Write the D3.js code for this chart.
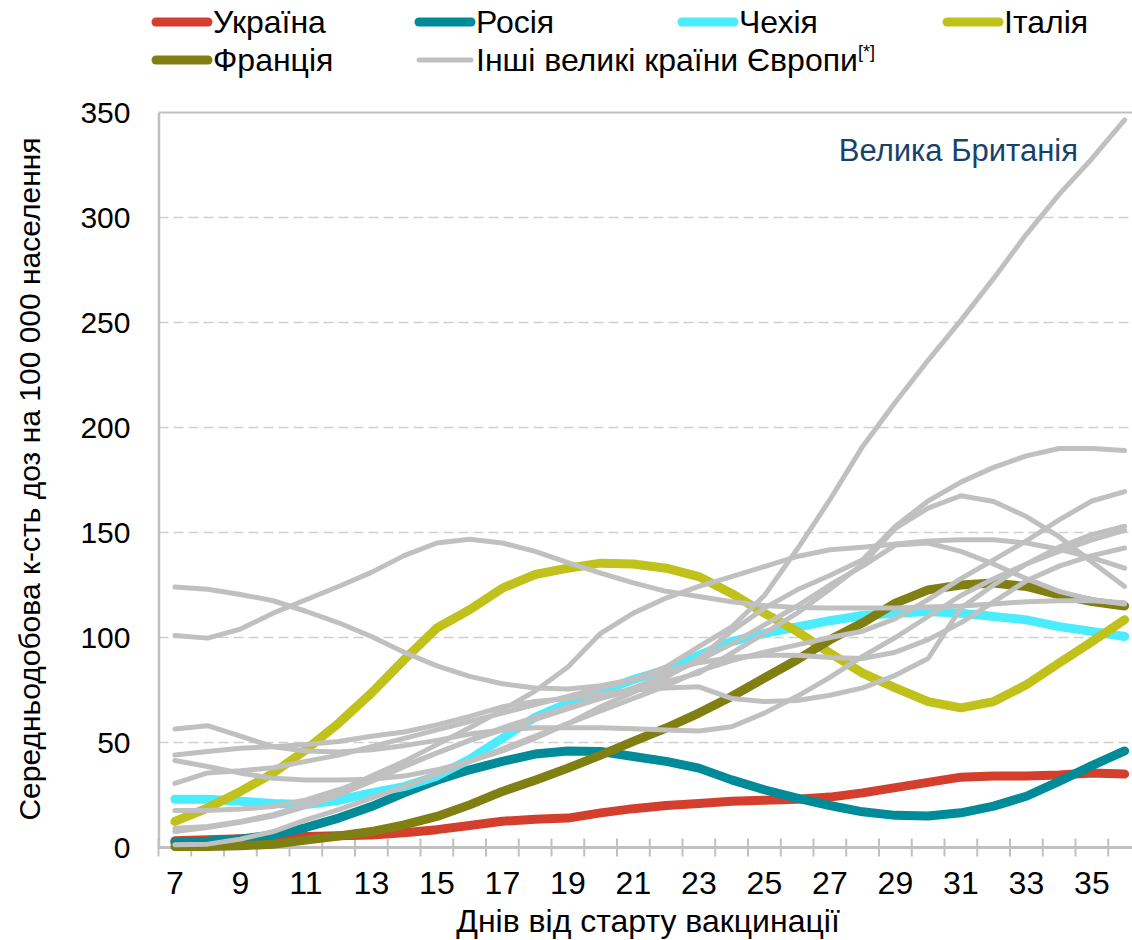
<!DOCTYPE html>
<html lang="uk">
<head>
<meta charset="utf-8">
<title>Вакцинація</title>
<style>
body { margin: 0; background: #fff; }
text { font-family: "Liberation Sans", Arial, sans-serif; fill: #000; }
.narrow { font-family: "Liberation Sans Narrow", "Arial Narrow", "Liberation Sans", sans-serif; }
.axis path, .axis line { fill: none; }
</style>
</head>
<body>
<script src="https://cdn.jsdelivr.net/npm/d3@7/dist/d3.min.js"></script>
<script>

// days since start of vaccination
var days = [7, 8, 9, 10, 11, 12, 13, 14, 15, 16, 17, 18, 19, 20, 21, 22, 23, 24, 25, 26, 27, 28, 29, 30, 31, 32, 33, 34, 35, 36];
var xTickLabels = [7, 9, 11, 13, 15, 17, 19, 21, 23, 25, 27, 29, 31, 33, 35];
var yTicks = [0, 50, 100, 150, 200, 250, 300, 350];

var ukraine = [3.2, 3.7, 4.2, 4.8, 5.2, 5.6, 6, 7, 8.5, 10.5, 12.5, 13.5, 14, 16.5, 18.5, 20, 21, 22, 22.5, 23, 24, 26, 28.5, 31, 33.5, 34, 34, 34.5, 35.5, 35];
var russia = [2.5, 3, 4, 6, 9.5, 14, 19.5, 26, 32, 37, 41, 44.5, 46, 45.7, 43.3, 41, 37.8, 32.2, 27.5, 23.5, 20, 17, 15.3, 15, 16.5, 19.7, 24.4, 31.5, 39, 46];
var czechia = [23, 23, 22, 21, 20.5, 22.5, 26, 29, 34, 42, 52, 62, 68.8, 74.3, 80, 84.6, 91.5, 98, 102, 105, 108, 110.5, 111.6, 112.4, 111.6, 110, 108.4, 105.2, 102.9, 100.5];
var italy = [12.4, 18.8, 26.7, 35.4, 46.5, 59.2, 73.5, 89.4, 104.5, 113.2, 123.5, 130, 133, 135.4, 135, 133, 129, 121, 111.6, 102.9, 92.6, 83, 76, 69.5, 66.5, 69.5, 77.5, 87.8, 98, 108.5];
var france = [0.5, 0.5, 0.8, 1.5, 3.5, 5.5, 7.6, 10.8, 14.8, 20.3, 26.7, 32, 37.8, 44, 50.5, 56.9, 64, 71.9, 80.7, 89.4, 98.9, 107, 116.4, 122.7, 125, 125.9, 124.3, 120.3, 117.1, 115];

// other big European countries (grey)
var otherUK = [30.5, 35.5, 36.5, 38, 41, 44, 48, 52, 56, 60, 64, 68, 72, 76, 80, 86, 95.7, 105, 120, 142, 165.6, 191, 212, 232, 251, 271, 292, 311, 328, 346.5];
var other1 = [124, 123, 120.5, 117.5, 112.5, 107, 100.5, 93, 86.5, 81.5, 78, 76, 75.5, 77, 80, 84, 88, 90.5, 91.5, 91.5, 90.5, 90, 93, 99, 107, 117, 127, 134, 139, 142.6];
var other2 = [101, 99.7, 104, 111.6, 118, 124.3, 131, 139, 145, 146.8, 145, 141, 135.7, 130.7, 126, 122, 119.5, 117, 115.2, 114.3, 114, 114, 114, 114.5, 115, 116, 117, 117.5, 117.5, 116.5];
var other3 = [9.2, 10, 12.4, 15.6, 20.3, 26.7, 34, 41, 49, 57, 65.5, 74.5, 86, 102, 111.6, 118.8, 124.3, 129, 133.8, 138.6, 141.8, 143, 144.5, 146, 146.5, 146.5, 145, 142, 138, 133];
var other4 = [56.4, 58, 53, 48, 46, 45.5, 46.5, 48.5, 51, 54, 56, 57, 57, 57, 56.5, 56, 55.5, 57.5, 64, 72, 81, 91, 100, 110, 120, 128, 135, 141, 146.5, 151];
var other5 = [44, 45.7, 47.3, 48, 49, 50.5, 53, 55, 58.4, 62.4, 67, 69.5, 71, 73, 75, 76, 76.5, 71, 69.5, 70, 72.5, 76, 82, 90, 114, 125, 135, 143, 149, 153];
var other6 = [41.4, 38.6, 35.4, 33, 32.2, 32.2, 32.5, 34, 37, 41, 46, 52, 59, 67, 74, 81, 90, 103, 114, 122.7, 129.5, 137, 153, 165, 174, 181, 186.5, 190, 190, 189];
var other7 = [17.6, 17.6, 18.3, 19.5, 22.7, 27.5, 33, 39, 45, 51, 57, 62, 67, 71, 75, 79, 83, 92.6, 102, 111.6, 123, 135, 152, 161.6, 167.5, 164.8, 157.6, 148, 136, 124.3];
var other8 = [7.6, 9.5, 12, 15, 19.5, 25, 31.5, 38.5, 45, 51, 56, 61, 66, 71, 76, 82, 89, 97, 106, 115, 125, 134, 144, 145, 141, 135, 128, 122, 118, 116];
var other9 = [1.3, 1.6, 4, 7.6, 13.2, 18, 23.5, 29, 35, 41, 47, 53, 59, 65, 71, 77, 84, 89, 93, 96.5, 100, 103, 109, 118, 128, 137, 146, 156, 165, 169.5];

var names = ["Україна", "Росія", "Чехія", "Італія", "Франція", "Інші великі країни Європи"];
var colors = ["#d33f2c", "#008b98", "#4aecfd", "#c0c11b", "#7f7f12", "#c0c0c0"];

var mainSeries = [ukraine, russia, czechia, italy, france];
var otherSeries = [otherUK, other1, other2, other3, other4, other5, other6, other7, other8, other9];

var w = 1132;
var h = 940;
var plotLeft = 158.5;
var plotTop = 112.5;
var plotBottom = 847.5;
var band = 32.75;

var svg = d3.select("body").append("svg")
.attr("width", w)
.attr("height", h);

var xScale = d3.scaleBand()
.domain(days)
.range([plotLeft, plotLeft + band * days.length]);

var yScale = d3.scaleLinear()
.domain([0, 350])
.range([plotBottom, plotTop]);

// dashed grid
svg.selectAll(".grid")
.data(yTicks.filter(function(d){ return d > 0 && d < 350; }))
.enter().append("line")
.attr("x1", plotLeft)
.attr("x2", w)
.attr("y1", function(d){ return yScale(d); })
.attr("y2", function(d){ return yScale(d); })
.attr("stroke", "#d0d0d0")
.attr("stroke-width", 1.6)
.attr("stroke-dasharray", "10,5");

// top border
svg.append("line")
.attr("x1", plotLeft).attr("x2", w)
.attr("y1", yScale(350)).attr("y2", yScale(350))
.attr("stroke", "#c0c0c0")
.attr("stroke-width", 2.2);

// y axis
var yAxis = d3.axisLeft(yScale).tickValues(yTicks).tickSize(0).tickPadding(28);
var gy = svg.append("g")
.attr("class", "axis")
.attr("transform", "translate(" + plotLeft + ",0)")
.call(yAxis);
gy.select(".domain").attr("stroke", "#c0c0c0").attr("stroke-width", 2.5);
gy.selectAll("text").style("font-size", "30px").attr("fill", "#000");

// x axis (labels at band centres)
var xAxis = d3.axisBottom(xScale).tickValues(xTickLabels).tickSize(0).tickPadding(24);
var gx = svg.append("g")
.attr("class", "axis")
.attr("transform", "translate(0," + plotBottom + ")")
.call(xAxis);
gx.select(".domain").remove();
gx.selectAll("text").attr("class", "narrow").style("font-size", "32px").attr("fill", "#000");

// tick marks at band boundaries
svg.selectAll(".xtick")
.data(days)
.enter().append("line")
.attr("x1", function(d){ return xScale(d); })
.attr("x2", function(d){ return xScale(d); })
.attr("y1", plotBottom - 9)
.attr("y2", plotBottom + 9)
.attr("stroke", "#c0c0c0")
.attr("stroke-width", 2);

svg.append("line")
.attr("x1", plotLeft).attr("x2", w)
.attr("y1", plotBottom).attr("y2", plotBottom)
.attr("stroke", "#c0c0c0")
.attr("stroke-width", 3);

var line = d3.line()
.x(function(d, i){ return xScale(days[i]) + xScale.bandwidth() / 2; })
.y(function(d){ return yScale(d); });

svg.selectAll(".main")
.data(mainSeries)
.enter().append("path")
.attr("d", line)
.attr("fill", "none")
.attr("stroke", function(d, i){ return colors[i]; })
.attr("stroke-width", 9)
.attr("stroke-linecap", "round")
.attr("stroke-linejoin", "round");

svg.selectAll(".other")
.data(otherSeries)
.enter().append("path")
.attr("d", line)
.attr("fill", "none")
.attr("stroke", colors[5])
.attr("stroke-width", 5)
.attr("stroke-linecap", "round")
.attr("stroke-linejoin", "round");

// annotation
svg.append("text")
.attr("x", 1078)
.attr("y", 161)
.attr("text-anchor", "end")
.style("font-size", "31px")
.style("fill", "#17426b")
.text("Велика Британія");

// axis titles
svg.append("text")
.attr("class", "narrow")
.attr("x", 648)
.attr("y", 932)
.attr("text-anchor", "middle")
.style("font-size", "32px")
.text("Днів від старту вакцинації");

svg.append("text")
.attr("transform", "translate(40,479) rotate(-90)")
.attr("text-anchor", "middle")
.style("font-size", "30px")
.text("Середньодобова к-сть доз на 100 000 населення");

// legend
var legendPos = [[152, 22], [415, 22], [678, 22], [943, 22], [152, 60], [415, 60]];
var lg = svg.selectAll(".legend")
.data(names)
.enter().append("g")
.attr("transform", function(d, i){ return "translate(" + legendPos[i][0] + "," + legendPos[i][1] + ")"; });

lg.append("line")
.attr("x1", 4).attr("x2", 56)
.attr("stroke", function(d, i){ return colors[i]; })
.attr("stroke-width", function(d, i){ return i == 5 ? 5 : 9; })
.attr("stroke-linecap", "round");

var lt = lg.append("text")
.attr("class", "narrow")
.attr("x", 61)
.attr("y", 11)
.style("font-size", "32px")
.text(function(d){ return d; });

lt.filter(function(d, i){ return i == 5; })
.append("tspan")
.attr("dy", -13)
.style("font-size", "18px")
.text("[*]");

</script>
</body>
</html>
